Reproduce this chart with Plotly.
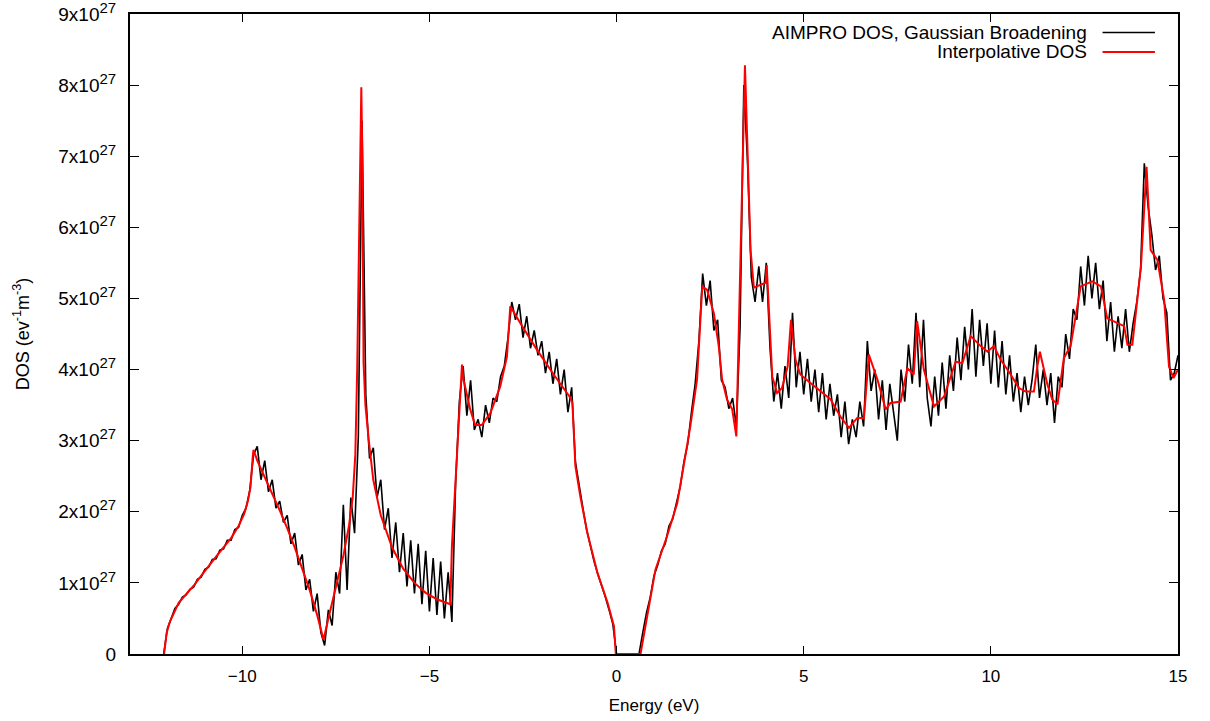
import numpy as np
import plotly.graph_objects as go

SCALE = 1e27

# Interpolative DOS (red), energies in eV, DOS in units of 1e27 eV^-1 m^-3
red_energy = [-12.09, -12.06, -12.02, -11.93, -11.8, -11.7, -11.5, -11.3, -11.1, -10.9,
              -10.7, -10.5, -10.3, -10.1, -9.95, -9.85, -9.78, -9.72, -9.70, -9.6,
              -9.4, -9.2, -9.0, -8.8, -8.6, -8.4, -8.2, -8.0, -7.9, -7.83,
              -7.7, -7.5, -7.3, -7.15, -7.05, -6.98, -6.93, -6.88, -6.85, -6.82,
              -6.79, -6.76, -6.71, -6.62, -6.5, -6.3, -6.0, -5.7, -5.4, -5.1,
              -4.8, -4.44, -4.40, -4.27, -4.13, -4.09, -3.91, -3.78, -3.60, -3.37,
              -3.11, -2.93, -2.87, -2.84, -2.57, -2.13, -1.68, -1.23, -1.18, -1.10,
              -0.97, -0.78, -0.51, -0.24, -0.07, -0.02, 0.64, 0.86, 1.04, 1.35,
              1.62, 1.79, 1.97, 2.15, 2.24, 2.29, 2.42, 2.60, 2.73, 2.82,
              2.95, 3.09, 3.20, 3.36, 3.43, 3.58, 3.67, 3.84, 3.98, 4.01,
              4.07, 4.16, 4.29, 4.42, 4.57, 4.66, 4.78, 4.91, 5.18, 5.45,
              5.72, 5.98, 6.21, 6.43, 6.61, 6.74, 6.97, 7.19, 7.32, 7.59,
              7.77, 7.94, 8.03, 8.21, 8.48, 8.75, 9.06, 9.24, 9.46, 9.73,
              9.91, 10.08, 10.26, 10.53, 10.75, 10.93, 11.15, 11.24, 11.31, 11.51,
              11.64, 11.78, 11.95, 12.13, 12.40, 12.71, 12.94, 13.11, 13.38, 13.56,
              13.65, 13.78, 14.01, 14.16, 14.27, 14.45, 14.63, 14.76, 14.88, 15.0]
red_dos = [0.0, 0.15, 0.30, 0.46, 0.62, 0.72, 0.84, 0.96, 1.10, 1.24,
           1.37, 1.50, 1.63, 1.80, 1.97, 2.15, 2.35, 2.78, 2.87, 2.72,
           2.49, 2.25, 2.02, 1.77, 1.50, 1.20, 0.90, 0.55, 0.35, 0.20,
           0.50, 0.95, 1.38, 1.80, 2.20, 2.80, 4.00, 5.80, 7.00, 7.97,
           6.80, 4.10, 3.50, 3.00, 2.45, 1.95, 1.50, 1.20, 1.00, 0.86,
           0.77, 0.70, 1.51, 2.69, 4.07, 3.86, 3.44, 3.22, 3.22, 3.39,
           3.76, 4.18, 4.60, 4.89, 4.65, 4.28, 3.93, 3.60, 3.53, 2.64,
           2.22, 1.70, 1.14, 0.72, 0.39, 0.0, 0.0, 0.67, 1.19, 1.66,
           2.12, 2.64, 3.20, 3.86, 4.61, 5.17, 5.12, 4.79, 4.33, 3.86,
           3.58, 3.44, 3.06, 6.48, 8.28, 5.68, 5.15, 5.19, 5.22, 5.47,
           4.75, 3.90, 3.67, 3.74, 4.04, 4.70, 4.14, 3.93, 3.81, 3.69,
           3.58, 3.34, 3.18, 3.32, 3.32, 4.21, 3.86, 3.44, 3.53, 3.55,
           4.02, 3.93, 4.68, 4.00, 3.48, 3.62, 4.11, 4.09, 4.47, 4.33,
           4.25, 4.33, 4.14, 3.93, 3.74, 3.69, 3.69, 4.04, 4.25, 3.79,
           3.58, 3.51, 4.16, 4.33, 5.17, 5.24, 5.17, 4.72, 4.65, 4.61,
           4.35, 4.35, 5.45, 6.85, 5.68, 5.54, 4.98, 4.04, 3.88, 4.00]

# AIMPRO DOS with Gaussian broadening (black), grid from -12.1 eV in 0.1 eV steps
black_start = -12.1
black_step = 0.1
black_dos = [
    0.00, 0.36, 0.50, 0.64, 0.70, 0.80, 0.83, 0.91, 0.94, 1.05,   # -12.1
    1.08, 1.19, 1.22, 1.33, 1.34, 1.46, 1.48, 1.60, 1.60, 1.75,   # -11.1
    1.78, 1.95, 2.05, 2.30, 2.80, 2.92, 2.45, 2.72, 2.28, 2.45,   # -10.1
    2.05, 2.15, 1.85, 1.95, 1.55, 1.70, 1.25, 1.40, 0.90, 1.05,   # -9.1
    0.60, 0.85, 0.30, 0.12, 0.62, 0.40, 1.15, 0.85, 2.10, 0.90,   # -8.1
    2.20, 1.70, 3.05, 7.50, 3.65, 2.75, 2.90, 2.20, 2.45, 1.75,   # -7.1
    2.05, 1.35, 1.85, 1.15, 1.70, 0.95, 1.60, 0.85, 1.55, 0.70,   # -6.1
    1.45, 0.60, 1.35, 0.55, 1.30, 0.50, 1.15, 0.45, 2.40, 3.55,   # -5.1
    4.05, 3.35, 3.85, 3.15, 3.30, 3.05, 3.50, 3.25, 3.60, 3.55,   # -4.1
    3.90, 4.05, 4.45, 4.95, 4.70, 4.92, 4.45, 4.75, 4.30, 4.55,   # -3.1
    4.20, 4.40, 3.95, 4.25, 3.80, 4.15, 3.65, 4.00, 3.40, 3.75,   # -2.1
    2.70, 2.35, 2.05, 1.75, 1.52, 1.30, 1.12, 0.97, 0.80, 0.62,   # -1.1
    0.42, 0.00, 0.00, 0.00, 0.00, 0.00, 0.00, 0.00, 0.30, 0.58,   # -0.1
    0.80, 1.10, 1.25, 1.45, 1.55, 1.80, 1.90, 2.15, 2.35, 2.70,   # 0.9
    2.95, 3.40, 3.80, 4.40, 5.35, 4.90, 5.25, 4.55, 4.70, 3.85,   # 1.9
    3.75, 3.45, 3.60, 3.20, 4.60, 8.00, 6.90, 5.30, 4.95, 5.45,   # 2.9
    4.95, 5.50, 4.30, 3.55, 3.95, 3.45, 4.05, 3.60, 4.80, 3.75,   # 3.9
    4.25, 3.65, 4.15, 3.55, 4.00, 3.40, 3.95, 3.30, 3.80, 3.35,   # 4.9
    3.65, 3.05, 3.55, 2.95, 3.30, 3.05, 3.55, 3.20, 4.40, 3.70,   # 5.9
    4.00, 3.30, 3.85, 3.15, 3.80, 3.40, 3.00, 4.00, 3.55, 4.35,   # 6.9
    3.80, 4.80, 3.75, 4.70, 3.60, 3.20, 3.90, 3.35, 4.10, 3.45,   # 7.9
    4.20, 3.70, 4.45, 3.85, 4.60, 4.00, 4.85, 3.90, 4.70, 4.05,   # 8.9
    4.65, 3.80, 4.55, 3.75, 4.40, 3.65, 4.20, 3.55, 3.95, 3.40,   # 9.9
    3.90, 3.50, 3.85, 4.35, 3.60, 4.00, 3.50, 3.95, 3.25, 3.90,   # 10.9
    3.75, 4.50, 4.15, 4.85, 4.70, 5.45, 4.90, 5.60, 5.00, 5.50,   # 11.9
    4.85, 5.25, 4.40, 4.95, 4.25, 4.75, 4.30, 4.85, 4.25, 4.65,   # 12.9
    4.95, 5.40, 6.90, 6.30, 5.90, 5.40, 5.60, 5.00, 4.80, 3.85,   # 13.9
    3.95, 4.20,                                                   # 14.9
]
black_energy = np.round(black_start + black_step * np.arange(len(black_dos)), 2)

x_ticks = [-10, -5, 0, 5, 10, 15]
y_ticks = list(range(0, 10))
y_ticktext = ["0"] + [f"{v}x10<sup><span style='font-size:15px'>27</span></sup>"
                      for v in y_ticks[1:]]
legend_labels = ["AIMPRO DOS, Gaussian Broadening", "Interpolative DOS"]
colors = ["#000000", "#ff0000"]

FONT = "Liberation Sans, Arial, Helvetica, sans-serif"

fig = go.Figure()
fig.add_trace(go.Scatter(x=black_energy, y=np.array(black_dos) * SCALE, mode="lines",
                         line=dict(color=colors[0], width=1.6), name=legend_labels[0],
                         showlegend=False))
fig.add_trace(go.Scatter(x=red_energy, y=np.array(red_dos) * SCALE, mode="lines",
                         line=dict(color=colors[1], width=2), name=legend_labels[1],
                         showlegend=False))

# gnuplot-style key: text right-aligned, line sample on the right
key_y = [0.971, 0.9407]
for lab, col, ky in zip(legend_labels, colors, key_y):
    fig.add_annotation(xref="paper", yref="paper", x=0.914, y=ky, text=lab,
                       showarrow=False, xanchor="right", yanchor="middle",
                       borderpad=0,
                       font=dict(family=FONT, size=19, color="black"))
    fig.add_shape(type="line", xref="paper", yref="paper", x0=0.928, x1=0.978,
                  y0=ky, y1=ky, line=dict(color=col, width=1.6 if col == "#000000" else 2))

axis_common = dict(showline=True, linecolor="black", linewidth=2, mirror="ticks",
                   ticks="inside", tickcolor="black", tickwidth=1,
                   showgrid=False, zeroline=False, automargin=False,
                   ticklabeloverflow="allow")

fig.update_layout(
    width=1210, height=721,
    margin=dict(l=130, r=32, t=14, b=67),
    paper_bgcolor="white", plot_bgcolor="white",
    xaxis=dict(range=[-13, 15], tickvals=x_ticks, ticklen=8,
               ticklabelstandoff=6,
               tickfont=dict(family=FONT, size=17, color="black"),
               title=dict(text="Energy (eV)", font=dict(family=FONT, size=17, color="black"),
                          standoff=14),
               **axis_common),
    yaxis=dict(range=[0, 9 * SCALE], tickvals=[v * SCALE for v in y_ticks],
               ticktext=y_ticktext, ticklen=9, ticklabelstandoff=8,
               tickfont=dict(family=FONT, size=19, color="black"),
               title=dict(text="DOS (ev<sup>-1</sup>m<sup>-3</sup>)",
                          font=dict(family=FONT, size=18, color="black"), standoff=24),
               **axis_common),
)

fig.write_html("out.html")
